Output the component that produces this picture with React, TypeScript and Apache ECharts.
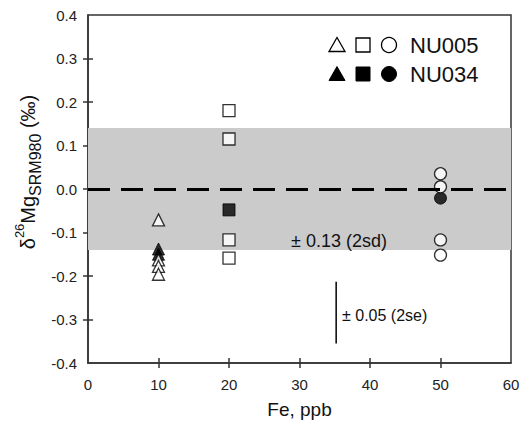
import React, { useEffect, useRef } from "react";
import * as echarts from "echarts";

const xTicks = [0, 10, 20, 30, 40, 50, 60];
const yTicks = [-0.4, -0.3, -0.2, -0.1, 0.0, 0.1, 0.2, 0.3, 0.4];

const nu005Triangles: number[][] = [[10, -0.071], [10, -0.163], [10, -0.178], [10, -0.196]];
const nu034Triangles: number[][] = [[10, -0.138], [10, -0.15]];
const nu005Squares: number[][] = [[20, 0.18], [20, 0.115], [20, -0.117], [20, -0.159]];
const nu034Squares: number[][] = [[20, -0.048]];
const nu005Circles: number[][] = [[50, 0.035], [50, 0.005], [50, -0.117], [50, -0.152]];
const nu034Circles: number[][] = [[50, -0.021]];

const bandHalfWidth = 0.14;
const errorBar: number[][] = [[35.2, -0.213], [35.2, -0.355]];

const FONT = "'Liberation Sans', Arial, Helvetica, sans-serif";

export default function App() {
  const ref = useRef<HTMLDivElement>(null);
  useEffect(() => {
    if (!ref.current) return;
    const chart = echarts.init(ref.current, null, { renderer: "svg" });
    const openStyle = { color: "#ffffff", borderColor: "#000000", borderWidth: 1.3 };
    const fillStyle = { color: "#000000", borderColor: "#000000", borderWidth: 1 };
    const scatter = (data: number[][], symbol: string, filled: boolean, size: number, z: number) => ({
      type: "scatter",
      data,
      symbol,
      symbolSize: size,
      itemStyle: filled ? fillStyle : openStyle,
      z,
      silent: true,
    });
    const legendX = [337, 363, 389];
    const legendG: any[] = [];
    const rows = [
      { y: 45, filled: false, label: "NU005" },
      { y: 74, filled: true, label: "NU034" },
    ];
    rows.forEach((r) => {
      const st = r.filled
        ? { fill: "#000", stroke: "#000", lineWidth: 1 }
        : { fill: "#fff", stroke: "#000", lineWidth: 1.3 };
      legendG.push({
        type: "polygon",
        shape: { points: [[legendX[0], r.y - 7.5], [legendX[0] - 8, r.y + 6.5], [legendX[0] + 8, r.y + 6.5]] },
        style: st,
      });
      legendG.push({ type: "rect", shape: { x: legendX[1] - 7, y: r.y - 7, width: 14, height: 14 }, style: st });
      legendG.push({ type: "circle", shape: { cx: legendX[2], cy: r.y, r: 7.5 }, style: st });
      legendG.push({
        type: "text",
        x: 410,
        y: r.y,
        style: { text: r.label, font: `22px ${FONT}`, fill: "#111", verticalAlign: "middle", align: "left" },
      });
    });

    chart.setOption({
      animation: false,
      backgroundColor: "#ffffff",
      grid: {
        left: 88, top: 15, right: 9, bottom: 61, show: true, borderColor: "#333", borderWidth: 1.5,
        backgroundColor: "transparent", containLabel: false, outerBoundsMode: "none",
      },
      xAxis: [
        {
          type: "value",
          min: 0,
          max: 60,
          interval: 10,
          position: "bottom",
          axisLine: { onZero: false, lineStyle: { color: "#333", width: 1.5 } },
          axisTick: { show: true, length: 5, inside: false, lineStyle: { color: "#333", width: 1.5 }, customValues: [10, 20, 30, 40, 50] },
          axisLabel: { fontSize: 15, color: "#222", fontFamily: FONT, margin: 14, customValues: xTicks },
          splitLine: { show: false },
          name: "Fe, ppb",
          nameLocation: "middle",
          nameGap: 37,
          nameTextStyle: { fontSize: 19, color: "#111", fontFamily: FONT },
        },
        {
          type: "value",
          min: 0,
          max: 60,
          interval: 10,
          position: "bottom",
          axisLine: { show: false, onZero: false },
          axisTick: { show: true, length: 5, inside: true, lineStyle: { color: "#333", width: 1.5 }, customValues: [10, 20, 30, 40, 50] },
          axisLabel: { show: false },
          splitLine: { show: false },
        },
      ],
      yAxis: [
        {
          type: "value",
          min: -0.4,
          max: 0.4,
          interval: 0.1,
          position: "left",
          axisLine: { onZero: false, lineStyle: { color: "#333", width: 1.5 } },
          axisTick: { show: true, length: 5, inside: false, lineStyle: { color: "#333", width: 1.5 }, customValues: [-0.3, -0.2, -0.1, 0, 0.1, 0.2, 0.3] },
          axisLabel: {
            fontSize: 15,
            color: "#222",
            fontFamily: FONT,
            margin: 11,
            customValues: yTicks,
            formatter: (v: number) => v.toFixed(1),
          },
          splitLine: { show: false },
        },
        {
          type: "value",
          min: -0.4,
          max: 0.4,
          interval: 0.1,
          position: "left",
          axisLine: { show: false, onZero: false },
          axisTick: { show: true, length: 5, inside: true, lineStyle: { color: "#333", width: 1.5 }, customValues: [-0.3, -0.2, -0.1, 0, 0.1, 0.2, 0.3] },
          axisLabel: { show: false },
          splitLine: { show: false },
        },
      ],
      series: [
        {
          type: "line",
          data: [],
          silent: true,
          markArea: {
            silent: true,
            itemStyle: { color: "#cbcbcb" },
            data: [[{ yAxis: -bandHalfWidth }, { yAxis: bandHalfWidth }]],
          },
          markLine: {
            silent: true,
            symbol: "none",
            label: { show: false },
            lineStyle: { color: "#000", width: 3, type: [22, 11] },
            data: [{ yAxis: 0 }],
          },
          z: 1,
        },
        {
          type: "line",
          data: errorBar,
          symbol: "none",
          lineStyle: { color: "#000", width: 1.5 },
          silent: true,
          z: 2,
        },
        scatter(nu034Triangles, "triangle", true, 12, 3),
        scatter(nu034Squares, "rect", true, 12, 3),
        scatter(nu034Circles, "circle", true, 12, 3),
        scatter(nu005Triangles, "triangle", false, 12, 4),
        scatter(nu005Squares, "rect", false, 12, 4),
        scatter(nu005Circles, "circle", false, 12, 4),
      ],
      graphic: [
        ...legendG,
        {
          type: "text",
          x: 291,
          y: 241,
          style: { text: "± 0.13 (2sd)", font: `18px ${FONT}`, fill: "#111", verticalAlign: "middle", align: "left" },
          z: 10,
        },
        {
          type: "text",
          x: 342,
          y: 315,
          style: { text: "± 0.05 (2se)", font: `16px ${FONT}`, fill: "#111", verticalAlign: "middle", align: "left" },
          z: 10,
        },
        {
          type: "text",
          x: 28,
          y: 172,
          rotation: Math.PI / 2,
          style: {
            text: "{a|δ}{sup|26}{a|Mg}{sub|SRM980}{a| (‰)}",
            align: "center",
            verticalAlign: "middle",
            fill: "#111",
            rich: {
              a: { fontSize: 20, fontFamily: FONT, fill: "#111", lineHeight: 30, verticalAlign: "middle" },
              sup: { fontSize: 13, fontFamily: FONT, fill: "#111", lineHeight: 30, verticalAlign: "top", padding: [0, 0, 8, 0] },
              sub: { fontSize: 16, fontFamily: FONT, fill: "#111", lineHeight: 30, verticalAlign: "bottom", padding: [8, 0, 0, 0] },
            },
          },
        },
      ],
    });
    return () => chart.dispose();
  }, []);
  return <div ref={ref} style={{ position: "fixed", left: 0, top: 0, width: 520, height: 424 }} />;
}
